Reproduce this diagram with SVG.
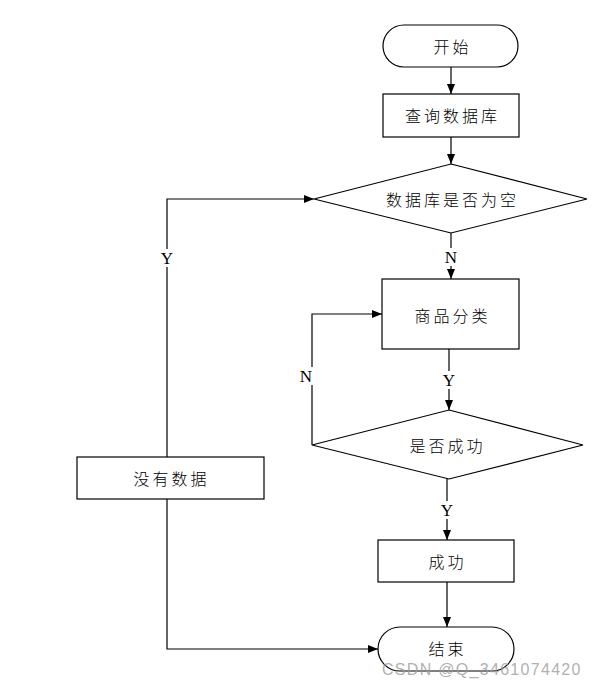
<svg xmlns="http://www.w3.org/2000/svg" width="593" height="685" viewBox="0 0 593 685">
<style>
.shape{fill:#fff;stroke:#000;stroke-width:1.2}
.line{fill:none;stroke:#000;stroke-width:1.2}
.cn{font-family:"Noto Sans CJK SC","Noto Sans",sans-serif;font-size:16px;font-weight:300;letter-spacing:3px;fill:#000;text-anchor:middle;dominant-baseline:central}
.lbl{font-family:"Liberation Serif",serif;font-size:17px;fill:#000;text-anchor:middle;dominant-baseline:central}
.wm{font-family:"Liberation Sans",sans-serif;font-size:16px;letter-spacing:1.3px;fill:#9a9a9a;fill-opacity:0.8}
</style>
<defs>
<marker id="arr" viewBox="0 0 10 10" refX="10" refY="5" markerWidth="10" markerHeight="10" markerUnits="userSpaceOnUse" orient="auto">
<path d="M0,1 L10,5 L0,9 Z" fill="#000"/>
</marker>
</defs>
<rect width="593" height="685" fill="#fff"/>
<g id="connectors">
<path class="line" d="M451,67 V94" marker-end="url(#arr)"/>
<path class="line" d="M451,137 V164" marker-end="url(#arr)"/>
<path class="line" d="M451,233 V279" marker-end="url(#arr)"/>
<path class="line" d="M449,349 V410" marker-end="url(#arr)"/>
<path class="line" d="M312,445 V314 H382" marker-end="url(#arr)"/>
<path class="line" d="M447,479 V540" marker-end="url(#arr)"/>
<path class="line" d="M447,582 V627" marker-end="url(#arr)"/>
<path class="line" d="M167,457 V199 H314" marker-end="url(#arr)"/>
<path class="line" d="M167,499 V649 H378" marker-end="url(#arr)"/>
<rect x="440" y="248" width="22" height="18" fill="#fff"/>
<text class="lbl" x="451" y="257">N</text>
<rect x="438" y="371" width="22" height="18" fill="#fff"/>
<text class="lbl" x="449" y="380">Y</text>
<rect x="296" y="367" width="20" height="18" fill="#fff"/>
<text class="lbl" x="306" y="376">N</text>
<rect x="436" y="501" width="22" height="18" fill="#fff"/>
<text class="lbl" x="447" y="510">Y</text>
<rect x="156" y="249" width="22" height="18" fill="#fff"/>
<text class="lbl" x="167" y="258">Y</text>
</g>
<g id="start">
<rect class="shape" x="383" y="25" width="135" height="42" rx="21" ry="21"/>
<text class="cn" x="452.5" y="46">开始</text>
</g>
<g id="query">
<rect class="shape" x="383" y="94" width="136" height="43"/>
<text class="cn" x="452.5" y="115">查询数据库</text>
</g>
<g id="isEmpty">
<polygon class="shape" points="451,164 587,199 451,233 314,199"/>
<text class="cn" x="452.5" y="199">数据库是否为空</text>
</g>
<g id="classify">
<rect class="shape" x="382" y="279" width="137" height="70"/>
<text class="cn" x="452.5" y="315">商品分类</text>
</g>
<g id="isSuccess">
<polygon class="shape" points="449,410 583,445 449,479 312,445"/>
<text class="cn" x="447.5" y="445">是否成功</text>
</g>
<g id="noData">
<rect class="shape" x="77" y="457" width="187" height="42"/>
<text class="cn" x="171.5" y="478">没有数据</text>
</g>
<g id="success">
<rect class="shape" x="378" y="540" width="136" height="42"/>
<text class="cn" x="447.5" y="561">成功</text>
</g>
<g id="end">
<rect class="shape" x="378" y="627" width="136" height="44" rx="22" ry="22"/>
<text class="cn" x="447.5" y="648">结束</text>
</g>
<text class="wm" x="382" y="675">CSDN @Q_3461074420</text>
</svg>
